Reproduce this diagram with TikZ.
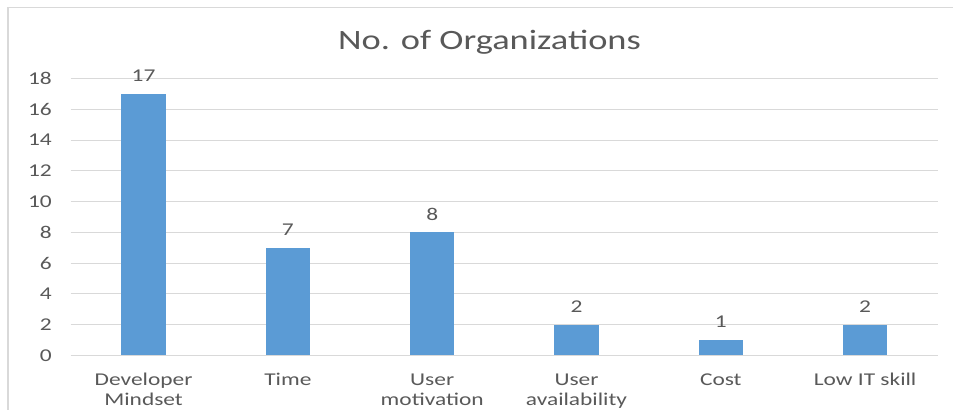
\documentclass[tikz,border=0pt]{standalone}
\usepackage{fontspec}
\setmainfont{Carlito}[FakeStretch=1.3]
\usetikzlibrary{positioning}
\definecolor{barblue}{HTML}{5B9BD5}
\definecolor{txtgray}{HTML}{595959}
\definecolor{gridgray}{HTML}{D9D9D9}

\begin{document}
\begin{tikzpicture}[
  x=1pt, y=1pt,
  gridline/.style={draw=gridgray, line width=0.8pt},
  mybar/.style={
    fill=barblue,
    draw=none,
    inner sep=0pt,
    outer sep=0pt,
    minimum width=44.5pt,
    minimum height=#1*15.37pt,
    anchor=south
    },
  ticklabel/.style={text=txtgray, font=\fontsize{18}{20}\selectfont, inner sep=0pt, anchor=east},
  vallabel/.style={text=txtgray, font=\fontsize{18}{20}\selectfont, inner sep=0pt},
  catlabel/.style={text=txtgray, font=\fontsize{18}{20}\selectfont, inner sep=0pt, align=center, anchor=north}
]

\useasboundingbox (0,0) rectangle (953,417);
\fill[white] (0,0) rectangle (953,417);
\draw[gridgray, line width=1.5pt] (8,7) -- (8,409.7) -- (953,409.7);

\node [text=txtgray, font=\fontsize{28}{32}\selectfont, anchor=base] (title) at (489.5,367) {No. of Organizations};

% value axis and grid
\foreach \v in {0,2,...,18} {
    \draw[gridline] (70.7,61.7+\v*15.37) -- (938,61.7+\v*15.37);
    \node [ticklabel] (tick\v) at (52,61.7+\v*15.37) {\v};
}

% bars with labels
\foreach \i/\n/\lab in {0/17/{Developer\\Mindset}, 1/7/{Time}, 2/8/{User\\motivation}, 3/2/{User\\availability}, 4/1/{Cost}, 5/2/{Low IT skill}} {
    \node [mybar=\n] (bar\i) at (143.6+\i*144.3,61.7) {};
    \node [vallabel, above=12pt of bar\i] (val\i) {\n};
    \node [catlabel] (cat\i) at (143.6+\i*144.3,43.7) {\lab};
}
\end{tikzpicture}
\end{document}
